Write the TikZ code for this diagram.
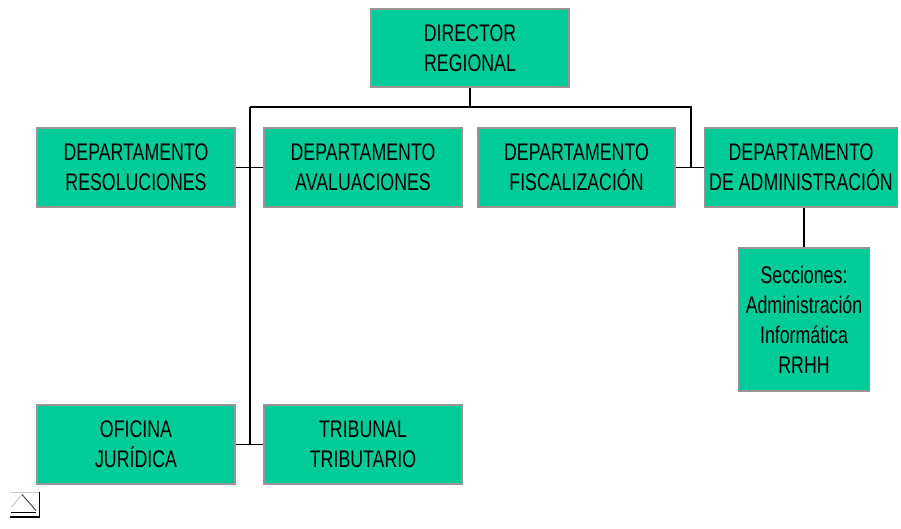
\documentclass[tikz,border=0pt]{standalone}
\usepackage{fontspec}
\setmainfont{Liberation Sans}[FakeStretch=0.74]
\definecolor{boxfill}{RGB}{0,204,153}
\definecolor{boxedge}{RGB}{150,150,150}
\definecolor{iconlight}{RGB}{200,200,200}
\begin{document}
\begin{tikzpicture}[x=1pt,y=-1pt,
  unit/.style={draw=boxedge, line width=1.4pt, fill=boxfill, inner sep=0pt,
    align=center, font=\fontsize{24}{30}\selectfont, text=black},
  wide/.style={unit, minimum width=198pt, minimum height=79pt},
  link/.style={draw=black, line width=1.3pt}]
\useasboundingbox (0,0) rectangle (901,528);

% Top of the chart
\node[wide, minimum height=78pt] (dir) at (470,48) {DIRECTOR\\REGIONAL};

% First row of departments
\node[wide] (res) at (136,167.5) {DEPARTAMENTO\\RESOLUCIONES};
\node[wide] (ava) at (363,167.5) {DEPARTAMENTO\\AVALUACIONES};
\node[wide, minimum width=197pt] (fis) at (576.5,167.5) {DEPARTAMENTO\\FISCALIZACIÓN};
\node[wide, minimum width=193pt] (adm) at (801,167.5) {DEPARTAMENTO\\DE ADMINISTRACIÓN};

% Sections under administration
\node[unit, minimum width=131pt, minimum height=143pt] (sec) at (804,319.5)
  {Secciones:\\Administración\\Informática\\RRHH};

% Bottom row
\node[wide] (ofi) at (136,444.5) {OFICINA\\JURÍDICA};
\node[wide] (tri) at (363,444.5) {TRIBUNAL\\TRIBUTARIO};

% Connector bus
\coordinate (busL) at (250,107);
\coordinate (busR) at (691,107);
\draw[link] (dir.south) -- (dir.south |- busL);
\draw[link] (busL) -- (busR) -- (busR |- adm.west);
\draw[link] (busL) -- (busL |- ofi.east);
\draw[link] (res.east) -- (ava.west);
\draw[link] (ofi.east) -- (tri.west);
\draw[link] (fis.east) -- (adm.west);
\draw[link] (adm.south -| sec.north) -- (sec.north);

% Small icon in the lower left corner
\draw[iconlight, line width=1pt] (10,492) -- (39,492);
\draw[iconlight, line width=1pt] (11.5,507) -- (22,494.5);
\draw[black!70, line width=1pt] (22,494.5) -- (36,510.5);
\draw[black, line width=1.2pt] (11,512.5) -- (36,512.5);
\draw[black, line width=1.6pt] (10,516.8) -- (39.3,516.8) -- (39.3,491.5);
\end{tikzpicture}
\end{document}
